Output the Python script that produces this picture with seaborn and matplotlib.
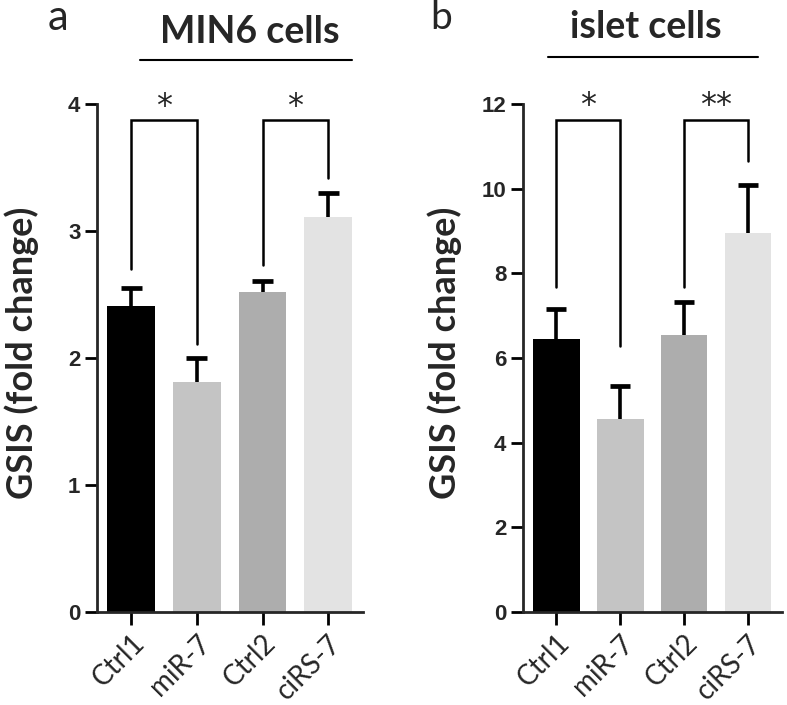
import numpy as np
import pandas as pd
import matplotlib
matplotlib.use("Agg")
import matplotlib.pyplot as plt
import seaborn as sns

groups = ["Ctrl1", "miR-7", "Ctrl2", "ciRS-7"]
colors = ["#000000", "#c4c4c4", "#adadad", "#e3e3e3"]

min6_mean = [2.41, 1.81, 2.52, 3.11]
min6_err = [0.14, 0.19, 0.09, 0.19]
islet_mean = [6.45, 4.55, 6.55, 8.95]
islet_err = [0.70, 0.79, 0.78, 1.14]

# significance brackets: (i, j, bracket top, left leg bottom, right leg bottom, label)
min6_sig = [(0, 1, 3.87, 2.70, 2.11, "*"), (2, 3, 3.87, 2.73, 3.42, "*")]
islet_sig = [(0, 1, 11.62, 7.68, 6.28, "*"), (2, 3, 11.62, 7.68, 10.66, "**")]

sns.set_style("ticks")
plt.rcParams["font.family"] = ["Lato", "DejaVu Sans"]

fig = plt.figure(figsize=(7.87, 7.05), dpi=100)
ax_a = fig.add_axes([0.1233, 0.1319, 0.3379, 0.7206])
ax_b = fig.add_axes([0.6645, 0.1319, 0.3291, 0.7206])

def panel(ax, means, errs, sig, ymax, yticks, label_x):
    df = pd.DataFrame({"group": groups, "value": means})
    sns.barplot(data=df, x="group", y="value", hue="group", palette=colors,
                order=groups, hue_order=groups, width=0.73, saturation=1,
                errorbar=None, legend=False, ax=ax, edgecolor="none")
    x = np.arange(len(groups))
    tops = np.array(means) + np.array(errs)
    ax.vlines(x, means, tops, color="black", lw=2.6, zorder=3)
    ax.hlines(tops, x - 0.16, x + 0.16, color="black", lw=3.4, zorder=3)
    for i, j, top, lb, rb, lab in sig:
        ax.plot([i, i, j, j], [lb, top, top, rb], color="black", lw=1.8,
                solid_joinstyle="miter", clip_on=False, zorder=4)
        ax.text((i + j) / 2, top - ymax * 0.002, lab, ha="center", va="bottom",
                fontsize=23, family="DejaVu Sans", clip_on=False)
    ax.set_xlim(-0.52, 3.53)
    ax.set_ylim(0, ymax)
    ax.set_yticks(yticks)
    ax.set_yticklabels([str(t) for t in yticks], fontsize=16, fontweight="bold",
                       family="Liberation Sans")
    ax.set_xticks(x)
    ax.set_xticklabels(groups, rotation=45, ha="right", rotation_mode="anchor",
                       fontsize=20)
    ax.set_xlabel("")
    ax.set_ylabel("GSIS (fold change)", fontsize=26, fontweight="bold")
    ax.yaxis.set_label_coords(label_x, 0.5, transform=fig.transFigure)
    for s in ["top", "right"]:
        ax.spines[s].set_visible(False)
    for s in ["left", "bottom"]:
        ax.spines[s].set_linewidth(2.0)
    ax.tick_params(axis="both", width=2.0, length=9, color="black", pad=3)
    ax.tick_params(axis="x", pad=4)

panel(ax_a, min6_mean, min6_err, min6_sig, 4, [0, 1, 2, 3, 4], 39 / 787)
panel(ax_b, islet_mean, islet_err, islet_sig, 12, [0, 2, 4, 6, 8, 10, 12], 462 / 787)

fig.text(0.074, 0.975, "a", fontsize=30, ha="center", va="center")
fig.text(0.560, 0.975, "b", fontsize=28, ha="center", va="center")
fig.text(0.318, 0.955, "MIN6 cells", fontsize=27, fontweight="bold", ha="center", va="center")
fig.text(0.821, 0.962, "islet cells", fontsize=27, fontweight="bold", ha="center", va="center")
fig.add_artist(plt.Line2D([140 / 787, 352 / 787], [1 - 60 / 705] * 2, color="black", lw=1.5))
fig.add_artist(plt.Line2D([548 / 787, 758 / 787], [1 - 57 / 705] * 2, color="black", lw=1.5))

fig.savefig("out.png", dpi=100)
